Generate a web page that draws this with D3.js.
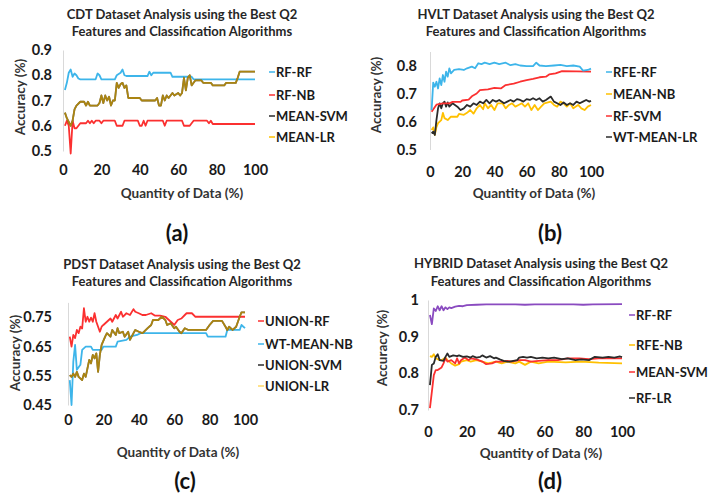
<!DOCTYPE html>
<html><head><meta charset="utf-8">
<script src="https://cdn.jsdelivr.net/npm/d3@7"></script>
<style>
body{margin:0;background:#fff}
svg{display:block}
text{font-family:Lato,"Open Sans",sans-serif}
</style>
</head><body>
<svg id="chart" width="708" height="495"></svg>
<script>
// ---------- shared tick labels ----------
const xTicks = [0, 20, 40, 60, 80, 100];
const cdtTicks = [0.5, 0.6, 0.7, 0.8, 0.9];
const hvltTicks = [0.5, 0.6, 0.7, 0.8];
const pdstTicks = [0.45, 0.55, 0.65, 0.75];
const hybridTicks = [0.7, 0.8, 0.9, 1];

// ---------- (a) CDT ----------
const cdtNames = ["RF-RF", "RF-NB", "MEAN-SVM", "MEAN-LR"];
const cdtRFRF = [[1,0.742],[2,0.77],[3,0.81],[4,0.823],[5,0.794],[6,0.807],[7,0.80],[8,0.787],[9,0.784],[17,0.784],[18,0.807],[19,0.80],[20,0.784],[27,0.784],[28,0.80],[30,0.81],[31,0.823],[32,0.80],[33,0.797],[44,0.797],[45,0.814],[46,0.80],[47,0.81],[56,0.81],[57,0.794],[67,0.794],[68,0.784],[100,0.784]];
const cdtRFNB = [[1,0.60],[2,0.62],[3,0.60],[4,0.49],[5,0.62],[6,0.59],[7,0.59],[8,0.60],[9,0.61],[12,0.61],[13,0.62],[14,0.61],[15,0.62],[16,0.61],[17,0.62],[19,0.62],[20,0.61],[21,0.62],[27,0.62],[28,0.60],[31,0.60],[32,0.62],[39,0.62],[40,0.60],[41,0.60],[42,0.62],[43,0.60],[44,0.62],[52,0.62],[53,0.60],[54,0.62],[62,0.62],[63,0.60],[66,0.60],[67,0.61],[68,0.62],[75,0.62],[76,0.61],[77,0.62],[78,0.607],[100,0.607]];
const cdtMeanSVM = [[1,0.652],[2,0.63],[3,0.615],[4,0.60],[5,0.62],[6,0.665],[7,0.68],[9,0.695],[11,0.695],[12,0.68],[13,0.695],[14,0.68],[18,0.68],[19,0.69],[20,0.72],[21,0.69],[22,0.72],[23,0.70],[24,0.715],[25,0.68],[26,0.70],[27,0.70],[28,0.77],[29,0.75],[30,0.765],[31,0.77],[32,0.75],[33,0.76],[34,0.71],[40,0.71],[41,0.70],[48,0.70],[49,0.71],[50,0.68],[51,0.68],[52,0.72],[53,0.70],[54,0.72],[55,0.71],[57,0.73],[58,0.72],[60,0.73],[61,0.72],[62,0.73],[63,0.79],[64,0.74],[65,0.79],[66,0.80],[67,0.76],[68,0.77],[69,0.78],[72,0.78],[73,0.77],[77,0.77],[78,0.76],[84,0.76],[85,0.77],[90,0.77],[91,0.79],[92,0.814],[100,0.814]];
const cdtMeanLR = cdtMeanSVM; // identical in the reference: the two lines overlap

// ---------- (b) HVLT ----------
const hvltNames = ["RFE-RF", "MEAN-NB", "RF-SVM", "WT-MEAN-LR"];
const hvltRFERF = [[1,0.641],[2,0.739],[3,0.724],[4,0.742],[5,0.718],[6,0.754],[7,0.73],[8,0.766],[9,0.742],[10,0.778],[11,0.76],[12,0.79],[13,0.772],[15,0.784],[18,0.787],[21,0.784],[23,0.79],[26,0.796],[28,0.79],[30,0.808],[32,0.805],[34,0.81],[37,0.805],[40,0.81],[43,0.805],[47,0.81],[50,0.801],[53,0.805],[56,0.80],[60,0.798],[64,0.798],[66,0.81],[68,0.80],[72,0.798],[77,0.80],[81,0.802],[85,0.798],[89,0.80],[93,0.796],[95,0.782],[98,0.784],[100,0.789]];
const hvltMeanNB = [[1,0.57],[2,0.579],[3,0.552],[4,0.58],[5,0.594],[7,0.605],[8,0.631],[9,0.612],[11,0.605],[13,0.617],[17,0.617],[18,0.627],[21,0.624],[23,0.631],[25,0.641],[27,0.628],[29,0.647],[31,0.659],[33,0.644],[34,0.665],[36,0.647],[38,0.659],[40,0.641],[42,0.665],[45,0.665],[47,0.647],[49,0.659],[51,0.665],[53,0.653],[55,0.659],[57,0.665],[59,0.653],[61,0.665],[63,0.641],[65,0.659],[67,0.641],[69,0.653],[71,0.665],[75,0.671],[77,0.659],[79,0.653],[81,0.671],[83,0.665],[85,0.653],[87,0.665],[89,0.647],[92,0.659],[94,0.647],[96,0.641],[98,0.653],[100,0.659]];
const hvltRFSVM = [[1,0.635],[4,0.66],[8,0.665],[12,0.665],[14,0.67],[19,0.67],[20,0.675],[24,0.678],[26,0.69],[29,0.70],[31,0.712],[36,0.715],[40,0.72],[44,0.718],[47,0.73],[52,0.735],[56,0.742],[60,0.748],[64,0.752],[68,0.758],[72,0.76],[74,0.768],[78,0.772],[82,0.78],[100,0.778]];
const hvltWtMeanLR = [[1,0.558],[2,0.564],[3,0.552],[4,0.605],[5,0.647],[6,0.665],[7,0.647],[8,0.665],[9,0.671],[10,0.653],[11,0.668],[12,0.653],[14,0.665],[17,0.653],[19,0.641],[21,0.647],[23,0.659],[25,0.653],[27,0.665],[29,0.659],[31,0.671],[33,0.665],[35,0.677],[37,0.665],[39,0.677],[41,0.671],[43,0.677],[46,0.665],[48,0.671],[50,0.677],[52,0.671],[54,0.68],[56,0.677],[58,0.671],[60,0.68],[62,0.677],[64,0.683],[66,0.677],[68,0.683],[70,0.671],[72,0.677],[75,0.689],[77,0.671],[79,0.665],[81,0.659],[83,0.668],[85,0.659],[87,0.665],[89,0.659],[91,0.671],[93,0.665],[95,0.671],[97,0.677],[99,0.671],[100,0.674]];

// ---------- (c) PDST ----------
const pdstNames = ["UNION-RF", "WT-MEAN-NB", "UNION-SVM", "UNION-LR"];
const pdstUnionRF = [[1,0.683],[2,0.649],[3,0.689],[4,0.678],[5,0.706],[6,0.695],[7,0.717],[8,0.711],[9,0.78],[10,0.734],[11,0.751],[12,0.734],[13,0.748],[14,0.734],[15,0.763],[16,0.734],[17,0.717],[18,0.70],[19,0.717],[20,0.723],[22,0.734],[24,0.745],[25,0.734],[27,0.757],[28,0.745],[30,0.768],[31,0.751],[33,0.763],[35,0.757],[37,0.777],[38,0.768],[40,0.763],[42,0.757],[44,0.757],[47,0.763],[49,0.755],[52,0.755],[55,0.751],[57,0.74],[59,0.729],[60,0.723],[62,0.74],[64,0.745],[66,0.757],[67,0.763],[70,0.763],[72,0.751],[100,0.751]];
const pdstWtMeanNB = [[1,0.535],[2,0.45],[3,0.598],[4,0.655],[5,0.57],[7,0.587],[8,0.638],[10,0.649],[13,0.649],[14,0.638],[19,0.638],[20,0.649],[27,0.649],[28,0.666],[33,0.672],[35,0.683],[39,0.689],[41,0.695],[78,0.695],[79,0.683],[89,0.683],[90,0.706],[97,0.706],[98,0.723],[100,0.712]];
const pdstUnionSVM = [[1,0.552],[2,0.546],[3,0.557],[4,0.546],[5,0.563],[6,0.546],[8,0.535],[9,0.557],[10,0.546],[11,0.575],[12,0.604],[13,0.592],[14,0.621],[15,0.609],[16,0.626],[17,0.563],[18,0.621],[19,0.655],[21,0.683],[22,0.695],[24,0.683],[25,0.706],[27,0.689],[28,0.712],[29,0.695],[31,0.70],[32,0.683],[34,0.70],[35,0.672],[37,0.695],[38,0.706],[40,0.70],[42,0.695],[43,0.70],[45,0.712],[47,0.723],[48,0.74],[51,0.74],[53,0.751],[55,0.74],[56,0.723],[58,0.729],[60,0.712],[61,0.717],[63,0.70],[64,0.695],[66,0.712],[68,0.706],[78,0.706],[80,0.723],[82,0.737],[87,0.737],[89,0.717],[90,0.706],[91,0.717],[93,0.706],[95,0.717],[97,0.751],[98,0.766],[100,0.766]];
const pdstUnionLR = pdstUnionSVM; // identical in the reference: the two lines overlap

// ---------- (d) HYBRID ----------
const hybridNames = ["RF-RF", "RFE-NB", "MEAN-SVM", "RF-LR"];
const hybridRFRF = [[1,0.959],[2,0.934],[3,0.977],[4,0.97],[5,0.983],[6,0.972],[7,0.983],[8,0.972],[9,0.98],[10,0.975],[11,0.98],[12,0.978],[14,0.982],[16,0.984],[18,0.983],[20,0.986],[25,0.987],[30,0.988],[45,0.988],[50,0.987],[55,0.988],[75,0.988],[80,0.987],[85,0.988],[100,0.989]];
const hybridRFENB = [[1,0.847],[2,0.845],[3,0.852],[4,0.841],[6,0.836],[7,0.836],[9,0.843],[10,0.836],[12,0.827],[14,0.821],[16,0.825],[17,0.832],[20,0.836],[22,0.832],[25,0.836],[28,0.832],[31,0.827],[35,0.832],[38,0.827],[41,0.832],[45,0.827],[47,0.832],[50,0.823],[53,0.832],[57,0.827],[62,0.832],[71,0.83],[79,0.832],[88,0.829],[100,0.827]];
const hybridMeanSVM = [[1,0.705],[2,0.75],[3,0.795],[4,0.809],[5,0.809],[7,0.816],[8,0.827],[9,0.841],[10,0.832],[12,0.836],[14,0.827],[15,0.841],[16,0.827],[17,0.836],[19,0.843],[21,0.836],[22,0.841],[25,0.838],[28,0.832],[30,0.825],[33,0.827],[35,0.832],[38,0.832],[41,0.834],[43,0.832],[47,0.836],[50,0.836],[53,0.832],[57,0.834],[62,0.836],[67,0.836],[72,0.841],[78,0.841],[83,0.839],[88,0.841],[93,0.841],[100,0.841]];
const hybridRFLR = [[1,0.768],[2,0.823],[3,0.827],[4,0.845],[5,0.852],[6,0.836],[8,0.834],[9,0.845],[10,0.854],[11,0.845],[13,0.849],[15,0.847],[16,0.849],[18,0.845],[20,0.846],[22,0.843],[23,0.847],[25,0.843],[27,0.845],[28,0.849],[30,0.843],[32,0.847],[34,0.841],[35,0.843],[37,0.838],[39,0.834],[41,0.832],[42,0.832],[44,0.834],[46,0.836],[47,0.843],[49,0.845],[51,0.843],[53,0.845],[56,0.841],[59,0.843],[62,0.841],[65,0.843],[69,0.839],[72,0.841],[76,0.836],[79,0.838],[83,0.836],[86,0.845],[90,0.843],[93,0.845],[96,0.843],[99,0.846],[100,0.844]];

// ---------- colours ----------
const BLUE = "#3db5ea", RED = "#fb3030", DARK = "#2b2b2b", GOLD = "#ffc000", PALE = "#ffd966", PURPLE = "#8a4bc0";

const fmt1 = d3.format(".1f"), fmt2 = d3.format(".2f");
const panels = [
  { title: ["CDT Dataset Analysis using the Best Q2", "Features and Classification Algorithms"], label: "(a)",
    xr: [63, 255], yr: [151, 50], yd: [0.5, 0.9], yTicks: cdtTicks, fmt: fmt1,
    titleX: 182, titleY: [14, 31], yTitle: [20, 97], tickRight: 52, xTickY: 170, xTitle: [182, 193], lab: [177, 232],
    legX: 269, legY: [72, 95, 116, 137],
    series: [
      { name: cdtNames[0], data: cdtRFRF, color: BLUE },
      { name: cdtNames[1], data: cdtRFNB, color: RED },
      { name: cdtNames[2], data: cdtMeanSVM, color: DARK },
      { name: cdtNames[3], data: cdtMeanLR, color: GOLD, op: 0.6 } ] },
  { title: ["HVLT Dataset Analysis using the Best Q2", "Features and Classification Algorithms"], label: "(b)",
    xr: [430, 591], yr: [149.5, 51.5], yd: [0.5, 0.85], yTicks: hvltTicks, fmt: fmt1,
    titleX: 536, titleY: [14, 31], yTitle: [376, 95], tickRight: 417, xTickY: 172, xTitle: [534, 193], lab: [550, 232],
    legX: 606, legY: [72, 94, 116, 137],
    series: [
      { name: hvltNames[0], data: hvltRFERF, color: BLUE },
      { name: hvltNames[1], data: hvltMeanNB, color: GOLD },
      { name: hvltNames[2], data: hvltRFSVM, color: RED },
      { name: hvltNames[3], data: hvltWtMeanLR, color: DARK } ],
    order: [1, 3, 2, 0] },
  { title: ["PDST Dataset Analysis using the Best Q2", "Features and Classification Algorithms"], label: "(c)",
    xr: [68, 245], yr: [405, 302.4], yd: [0.45, 0.8], yTicks: pdstTicks, fmt: fmt2,
    titleX: 182, titleY: [264, 281], yTitle: [15, 353], tickRight: 52, xTickY: 420, xTitle: [178, 452], lab: [185, 480],
    legX: 258, legY: [321, 344, 365, 386],
    series: [
      { name: pdstNames[0], data: pdstUnionRF, color: RED },
      { name: pdstNames[1], data: pdstWtMeanNB, color: BLUE },
      { name: pdstNames[2], data: pdstUnionSVM, color: DARK },
      { name: pdstNames[3], data: pdstUnionLR, color: PALE, lineColor: GOLD, op: 0.6 } ] },
  { title: ["HYBRID Dataset Analysis using the Best Q2", "Features and Classification Algorithms"], label: "(d)",
    xr: [428, 622], yr: [410, 300], yd: [0.7, 1.0], yTicks: hybridTicks, fmt: d => d === 1 ? "1" : fmt1(d),
    titleX: 541, titleY: [263, 281], yTitle: [382, 348], tickRight: 419, xTickY: 432, xTitle: [541, 453], lab: [550, 480],
    legX: 629, legY: [315, 345, 372, 398],
    series: [
      { name: hybridNames[0], data: hybridRFRF, color: PURPLE },
      { name: hybridNames[1], data: hybridRFENB, color: GOLD },
      { name: hybridNames[2], data: hybridMeanSVM, color: RED },
      { name: hybridNames[3], data: hybridRFLR, color: DARK } ],
    order: [0, 1, 2, 3] }
];

const svg = d3.select("#chart");
svg.append("rect").attr("width", 708).attr("height", 495).attr("fill", "#fff");

panels.forEach(p => {
  const g = svg.append("g");
  const x = d3.scaleLinear().domain([0, 100]).range(p.xr);
  const y = d3.scaleLinear().domain(p.yd).range(p.yr);

  // titles
  p.title.forEach((t, i) => g.append("text").attr("x", p.titleX).attr("y", p.titleY[i])
    .attr("text-anchor", "middle").attr("dominant-baseline", "central")
    .attr("font-size", 13).attr("font-weight", 700).attr("fill", "#262626").text(t));

  // y axis
  const ya = g.append("g").attr("transform", `translate(${p.xr[0]},0)`)
    .call(d3.axisLeft(y).tickValues(p.yTicks).tickFormat(p.fmt).tickSize(0).tickPadding(p.xr[0] - p.tickRight));
  ya.select(".domain").attr("stroke", "#d9d9d9").attr("stroke-width", 1);
  ya.selectAll("text").attr("font-size", 14.5).attr("font-weight", 700).attr("fill", "#1a1a1a")
    .attr("font-family", "Lato, 'Open Sans', sans-serif");

  // x axis (labels only)
  const xa = g.append("g").attr("transform", `translate(0,${p.xTickY})`)
    .call(d3.axisBottom(x).tickValues(xTicks).tickSize(0).tickPadding(0));
  xa.select(".domain").remove();
  xa.selectAll("text").attr("dy", "0.35em").attr("font-size", 14.5).attr("font-weight", 700)
    .attr("fill", "#1a1a1a").attr("font-family", "Lato, 'Open Sans', sans-serif");

  // axis titles
  g.append("text").attr("transform", `translate(${p.yTitle[0]},${p.yTitle[1]}) rotate(-90)`)
    .attr("text-anchor", "middle").attr("dominant-baseline", "central")
    .attr("font-size", 13.5).attr("font-weight", 700).attr("fill", "#333").text("Accuracy (%)");
  g.append("text").attr("x", p.xTitle[0]).attr("y", p.xTitle[1])
    .attr("text-anchor", "middle").attr("dominant-baseline", "central")
    .attr("font-size", 13.5).attr("font-weight", 700).attr("fill", "#333").text("Quantity of Data (%)");

  // panel label
  g.append("text").attr("x", p.lab[0]).attr("y", p.lab[1])
    .attr("text-anchor", "middle").attr("dominant-baseline", "central")
    .attr("font-size", 22).attr("font-weight", 700).attr("fill", "#111").text(p.label);

  // lines
  const line = d3.line().x(d => x(d[0])).y(d => y(d[1]));
  const order = p.order || [1, 0, 2, 3];
  order.forEach(i => {
    const s = p.series[i];
    g.append("path").datum(s.data).attr("d", line).attr("fill", "none")
      .attr("stroke", s.lineColor || s.color).attr("stroke-opacity", s.op || 1)
      .attr("stroke-width", 1.8).attr("stroke-linejoin", "round");
  });

  // legend
  p.series.forEach((s, i) => {
    const ly = p.legY[i];
    g.append("line").attr("x1", p.legX).attr("x2", p.legX + 6).attr("y1", ly).attr("y2", ly)
      .attr("stroke", s.color).attr("stroke-width", 1.5);
    g.append("text").attr("x", p.legX + 7).attr("y", ly).attr("dominant-baseline", "central")
      .attr("font-size", 13).attr("font-weight", 700).attr("fill", "#1a1a1a").text(s.name);
  });
});
</script>
</body></html>
